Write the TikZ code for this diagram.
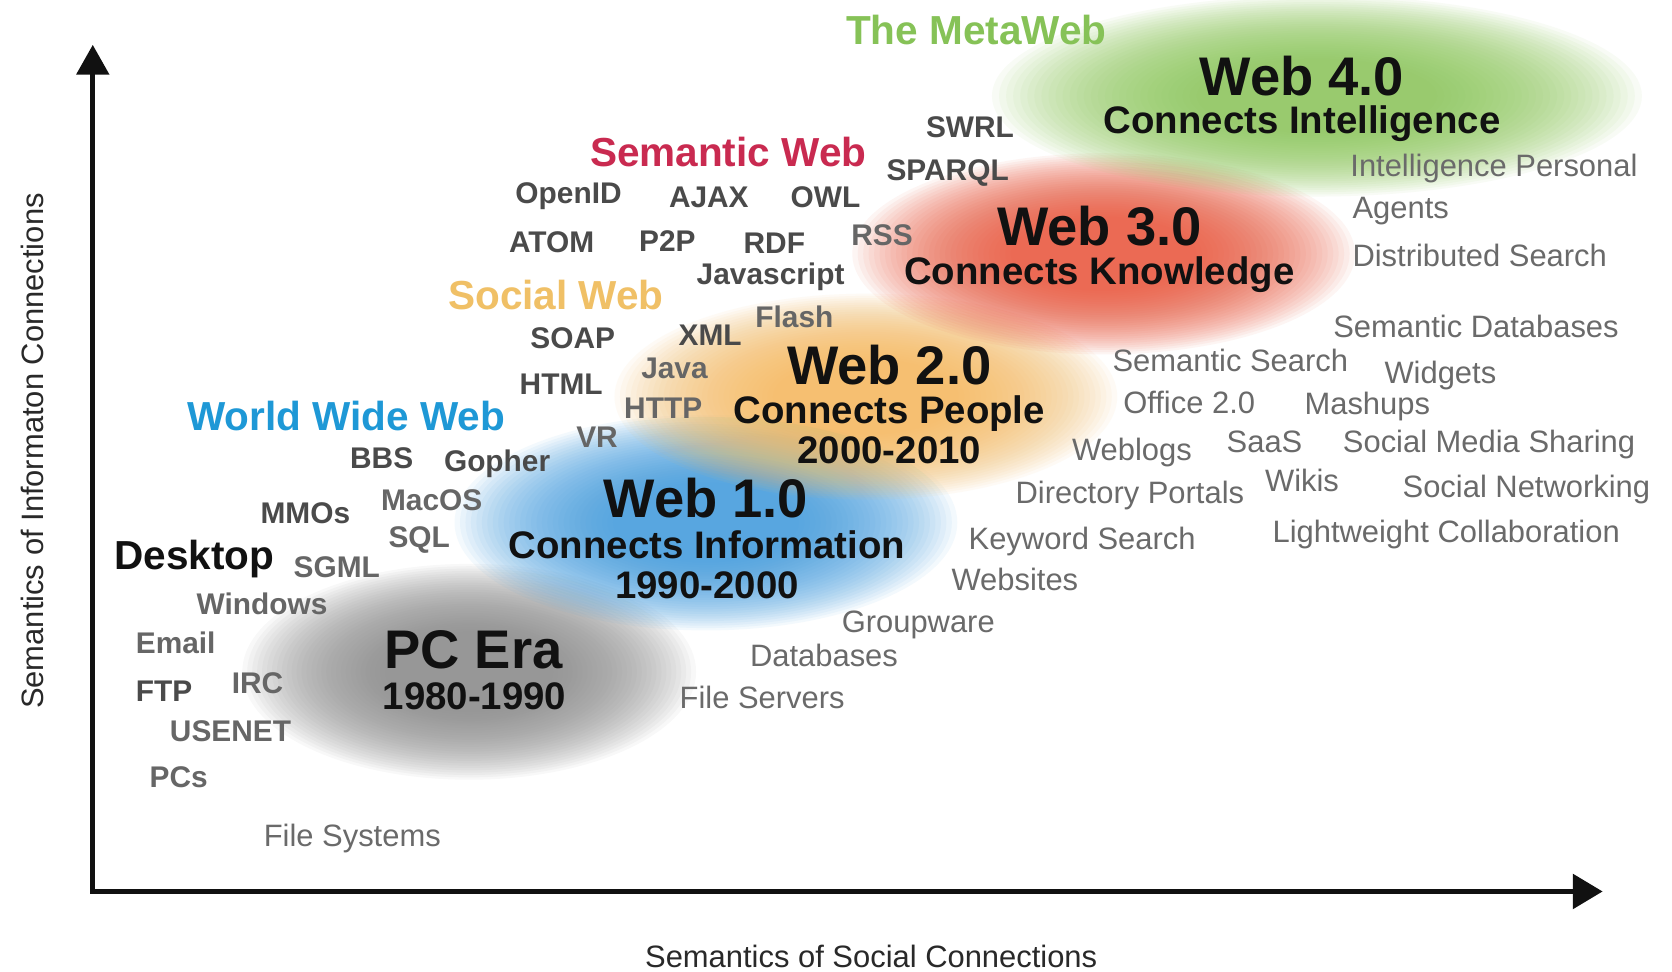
\documentclass[tikz,border=0pt]{standalone}
\usepackage{fontspec}
\setmainfont{Liberation Sans}
\usetikzlibrary{arrows.meta}
\definecolor{kw}{HTML}{4A4A4A}
\definecolor{kwl}{HTML}{666666}
\definecolor{lb}{HTML}{6A6A6A}
\definecolor{ink}{HTML}{111111}
\definecolor{metagreen}{HTML}{86C257}
\definecolor{semred}{HTML}{C92A50}
\definecolor{socgold}{HTML}{F0C066}
\definecolor{wwwblue}{HTML}{1E98D6}
\definecolor{bgray}{HTML}{8A8A8A}
\definecolor{bblue}{HTML}{3F9CE0}
\definecolor{borange}{HTML}{F6BA5E}
\definecolor{bred}{HTML}{EB553A}
\definecolor{bgreen}{HTML}{8CC95A}
\newcommand\blobfill[5]{%
  \foreach \k in {0,...,29}{%
    \fill[#5, fill opacity=0.06] (#1,#2) ellipse [x radius={(1.15-0.025*\k)*#3*0.5pt}, y radius={(1.15-0.025*\k)*#4*0.5pt}];
  }}
\tikzset{
  kwd/.style={anchor=west, inner sep=0pt, text=kw, font=\bfseries\fontsize{14}{16}\selectfont},
  kwdl/.style={kwd, text=kwl},
  lbl/.style={anchor=west, inner sep=0pt, text=lb, font=\fontsize{14.5}{17}\selectfont},
  webname/.style={anchor=base, inner sep=0pt, text height=0.73em, text depth=0pt, text=ink, font=\bfseries\fontsize{25.5}{28}\selectfont},
  websub/.style={anchor=base, inner sep=0pt, text height=0.73em, text depth=0.12em, text=ink, font=\bfseries\fontsize{18}{20}\selectfont},
  ctitle/.style={anchor=west, inner sep=0pt, font=\bfseries\fontsize{19}{22}\selectfont},
  axislbl/.style={inner sep=0pt, text=ink!90, font=\fontsize{14.5}{17}\selectfont},
  axisline/.style={line width=2.5pt, draw=ink, line join=miter, {Triangle[length=14pt,width=15pt]}-{Triangle[length=14pt,width=16pt]}}
}
\begin{document}
\begin{tikzpicture}[x=0.5pt,y=-0.5pt]
\useasboundingbox (0,0) rectangle (1568,911);
\fill[white] (0,0) rectangle (1568,911);
% blurred era blobs
\blobfill{440}{630}{185}{88}{bgray}
\blobfill{662}{490}{205}{88}{bblue}
\blobfill{812}{372}{205}{84}{borange}
\blobfill{1035}{238}{205}{82}{bred}
\blobfill{1235}{90}{265}{82}{bgreen}
% axes
\coordinate (ytip) at (87,42);
\coordinate (origin) at (87,836);
\coordinate (xtip) at (1503,836);
\draw[axisline] (ytip) -- (origin) -- (xtip);
\node[axislbl, rotate=90] (ylab) at (30,423) {Semantics of Informaton Connections};
\node[axislbl] (xlab) at (817,897) {Semantics of Social Connections};
% coloured titles
\node[ctitle, text=metagreen] (meta) at (793,28) {The MetaWeb};
\node[ctitle, text=semred] (semweb) at (553,143) {Semantic Web};
\node[ctitle, text=socgold] (socweb) at (420,277) {Social Web};
\node[ctitle, text=wwwblue] (www) at (175,390) {World Wide Web};
\node[ctitle, text=ink] (desktop) at (107,524) {Desktop};
% eras
\node[webname] (w4) at (1221,90) {Web 4.0};
\node[websub] (w4s) at (1221,125) {Connects Intelligence};
\node[webname] (w3) at (1031,230) {Web 3.0};
\node[websub] (w3s) at (1031,267) {Connects Knowledge};
\node[webname] (w2) at (834,361) {Web 2.0};
\node[websub] (w2s) at (834,397) {Connects People};
\node[websub] (w2d) at (834,435) {2000-2010};
\node[webname] (w1) at (662,485) {Web 1.0};
\node[websub] (w1s) at (663,524) {Connects Information};
\node[websub] (w1d) at (663,561) {1990-2000};
\node[webname] (pc) at (444,627) {PC Era};
\node[websub] (pcd) at (445,665) {1980-1990};
% technology keywords
\node[kwd] (swrl) at (868,119) {SWRL};
\node[kwd] (sparql) at (831,162) {SPARQL};
\node[kwd] (openid) at (483,184) {OpenID};
\node[kwd] (ajax) at (627,185) {AJAX};
\node[kwd] (owl) at (741,185) {OWL};
\node[kwd] (atom) at (477,227) {ATOM};
\node[kwd] (p2p) at (599,226) {P2P};
\node[kwd] (rdf) at (697,228) {RDF};
\node[kwdl] (rss) at (798,221) {RSS};
\node[kwd] (js) at (653,260) {Javascript};
\node[kwdl] (flash) at (708,297) {Flash};
\node[kwd] (soap) at (497,317) {SOAP};
\node[kwd] (xml) at (636,314) {XML};
\node[kwdl] (java) at (601,345) {Java};
\node[kwd] (html) at (487,360) {HTML};
\node[kwdl] (http) at (585,383) {HTTP};
\node[kwdl] (vr) at (540,410) {VR};
\node[kwd] (bbs) at (328,430) {BBS};
\node[kwd] (gopher) at (416,435) {Gopher};
\node[kwd] (mmos) at (244,481) {MMOs};
\node[kwdl] (macos) at (357,469) {MacOS};
\node[kwdl] (sql) at (364,506) {SQL};
\node[kwdl] (sgml) at (275,532) {SGML};
\node[kwdl] (windows) at (184,566) {Windows};
\node[kwdl] (email) at (127,603) {Email};
\node[kwd] (ftp) at (127,648) {FTP};
\node[kwdl] (irc) at (217,641) {IRC};
\node[kwdl] (usenet) at (159,686) {USENET};
\node[kwdl] (pcs) at (140,729) {PCs};
% application labels
\node[lbl] (ip) at (1266,158) {Intelligence Personal};
\node[lbl] (agents) at (1268,198) {Agents};
\node[lbl] (ds) at (1268,240) {Distributed Search};
\node[lbl] (sdb) at (1250,306) {Semantic Databases};
\node[lbl] (ss) at (1043,338) {Semantic Search};
\node[lbl] (widgets) at (1298,352) {Widgets};
\node[lbl] (office) at (1053,377) {Office 2.0};
\node[lbl] (mashups) at (1223,381) {Mashups};
\node[lbl] (weblogs) at (1005,424) {Weblogs};
\node[lbl] (saas) at (1150,414) {SaaS};
\node[lbl] (smsh) at (1259,417) {Social Media Sharing};
\node[lbl] (dirp) at (952,465) {Directory Portals};
\node[lbl] (wikis) at (1186,451) {Wikis};
\node[lbl] (sn) at (1315,459) {Social Networking};
\node[lbl] (kws) at (908,508) {Keyword Search};
\node[lbl] (lwc) at (1193,501) {Lightweight Collaboration};
\node[lbl] (websites) at (892,543) {Websites};
\node[lbl] (groupware) at (789,586) {Groupware};
\node[lbl] (databases) at (703,615) {Databases};
\node[lbl] (fservers) at (637,654) {File Servers};
\node[lbl] (fsys) at (247,786) {File Systems};
\end{tikzpicture}
\end{document}
